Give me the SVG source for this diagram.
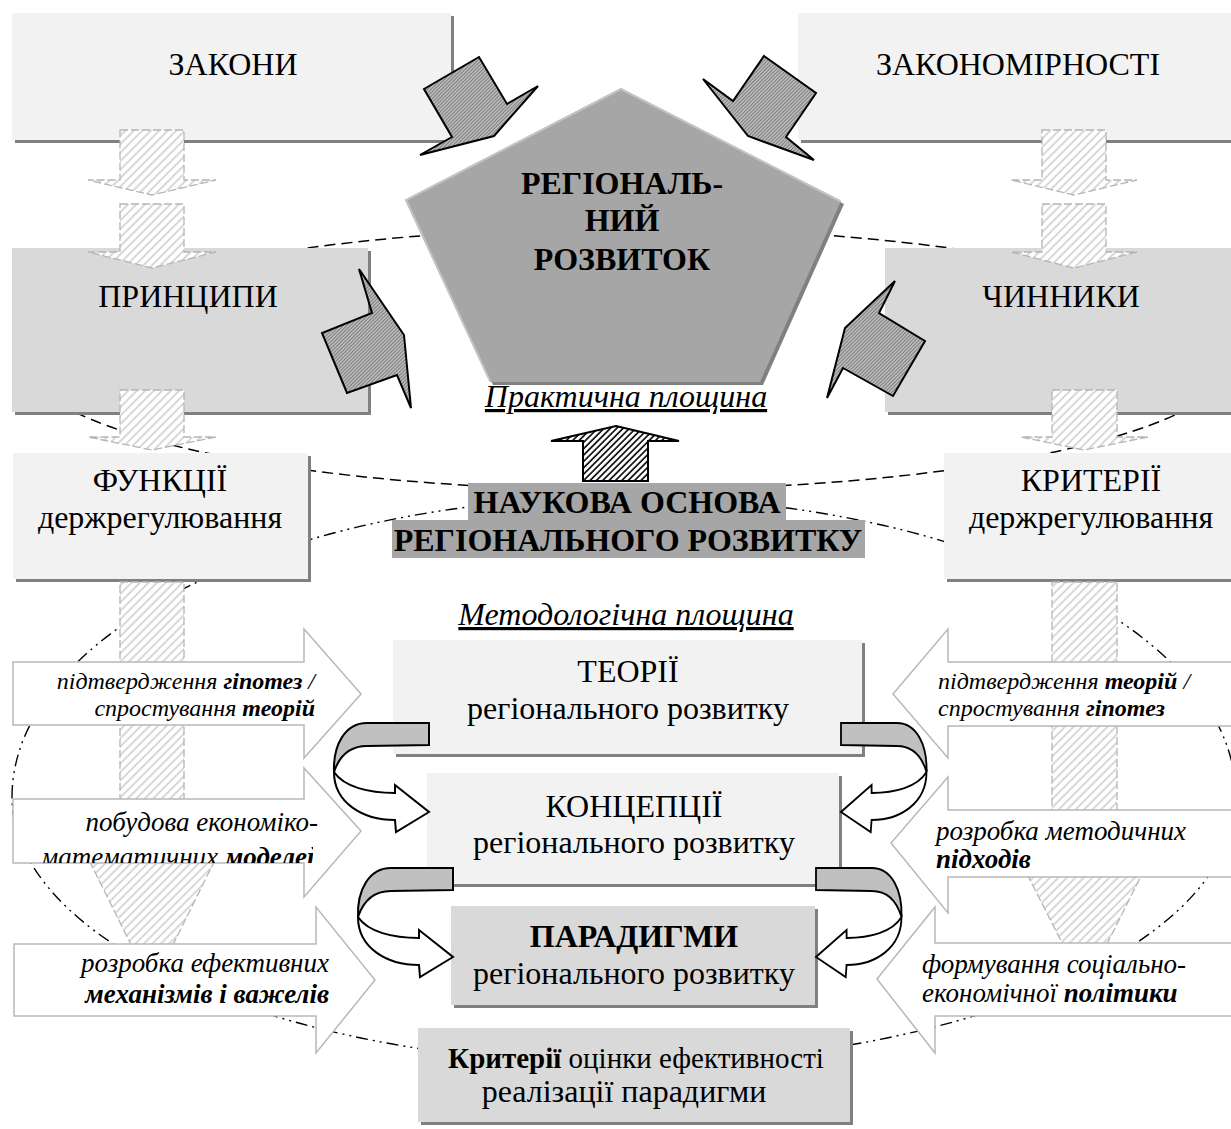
<svg xmlns="http://www.w3.org/2000/svg" width="1231" height="1129" viewBox="0 0 1231 1129" font-family="'Liberation Serif', Tinos, 'Times New Roman', serif">
<style>
text{font-family:'Liberation Serif', Tinos, 'Times New Roman', serif;fill:#000}
.t32{font-size:32px}
.t29{font-size:29px}
.b32{font-size:32px;font-weight:bold}
.it32{font-size:32px;font-style:italic;text-decoration:underline}
.it{font-size:24px;font-style:italic}
.it27{font-size:27px;font-style:italic}
.b{font-weight:bold}
.bl{fill:#f2f2f2}
.bm{fill:#d9d9d9}
.sh{fill:#808080}
.wa{fill:#fff;stroke:#b8b8b8;stroke-width:1.5}
.lh{fill:url(#hL);stroke:#b5b5b5;stroke-width:1.3;stroke-dasharray:8 3}
.ba{fill:url(#hX);stroke:#000;stroke-width:2}
.cg{fill:#c0c0c0;stroke:#000;stroke-width:2}
.cw{fill:#fff;stroke:#000;stroke-width:2}
.dash{fill:none;stroke:#000;stroke-width:1.5;stroke-dasharray:11 6}
.dd{fill:none;stroke:#000;stroke-width:1.4;stroke-dasharray:12 5 2 5 2 5}
</style>
<defs>
<pattern id="hL" width="6" height="6" patternUnits="userSpaceOnUse" patternTransform="rotate(45)">
<rect width="6" height="6" fill="#fff"/><line x1="1" y1="0" x2="1" y2="6" stroke="#c8c8c8" stroke-width="1.4"/>
</pattern>
<pattern id="hB" width="4.5" height="4.5" patternUnits="userSpaceOnUse" patternTransform="rotate(45)">
<rect width="4.5" height="4.5" fill="#fff"/><line x1="1" y1="0" x2="1" y2="4.5" stroke="#000" stroke-width="1.6"/>
</pattern>
<pattern id="hX" width="2.5" height="2.5" patternUnits="userSpaceOnUse" patternTransform="rotate(45)">
<rect width="2.5" height="2.5" fill="#bcbcbc"/><line x1="0.5" y1="0" x2="0.5" y2="2.5" stroke="#555" stroke-width="0.6"/>
</pattern>
<clipPath id="clipA2"><rect x="13" y="799" width="300" height="64"/></clipPath>
<g id="curl">
<path class="cg" d="M0,0 L-62,0 C-84,0 -96,22 -95,49 C-90,34 -80,23 -62,23 L0,22 Z"/>
<path class="cw" d="M-95,49 C-95,80 -66,97 -34,97 L-33,109 L0,89 L-34,62 L-34,70 C-60,70 -85,64 -95,49 Z"/>
</g>
</defs>

<rect width="1231" height="1129" fill="#fff"/>

<g id="planes">
<ellipse class="dash" cx="628" cy="359" rx="605" ry="131"/>
<path class="dd" d="M12,797 A612,300 0 0 1 1236,797 A612,267 0 0 1 12,797 Z"/>
</g>

<g id="nodes">
<g id="zakony"><rect class="sh" x="15" y="16" width="439" height="127"/><rect class="bl" x="12" y="13" width="439" height="127"/><text class="t32" x="233" y="75" text-anchor="middle">ЗАКОНИ</text></g>
<g id="zakonomirnosti"><rect class="sh" x="801" y="16" width="440" height="127"/><rect class="bl" x="798" y="13" width="440" height="127"/><text class="t32" x="1018" y="75" text-anchor="middle">ЗАКОНОМІРНОСТІ</text></g>
<g id="pryntsypy"><rect class="sh" x="15" y="251" width="356" height="164"/><rect class="bm" x="12" y="248" width="356" height="164"/><text class="t32" x="188" y="307" text-anchor="middle">ПРИНЦИПИ</text></g>
<g id="chynnyky"><rect class="sh" x="888" y="251" width="356" height="164"/><rect class="bm" x="885" y="248" width="356" height="164"/><text class="t32" x="1061" y="307" text-anchor="middle">ЧИННИКИ</text></g>
<g id="funktsii"><rect class="sh" x="16" y="456" width="295" height="126"/><rect class="bl" x="13" y="453" width="295" height="126"/><text class="t32" x="160" y="491" text-anchor="middle">ФУНКЦІЇ</text><text class="t32" x="160" y="528" text-anchor="middle">держрегулювання</text></g>
<g id="kryterii"><rect class="sh" x="947" y="456" width="296" height="126"/><rect class="bl" x="944" y="453" width="296" height="126"/><text class="t32" x="1091" y="491" text-anchor="middle">КРИТЕРІЇ</text><text class="t32" x="1091" y="528" text-anchor="middle">держрегулювання</text></g>
<g id="rozvytok">
<polygon fill="#808080" points="624,91 844,204 763,385 493,385 408,203"/>
<polygon fill="#a6a6a6" points="621,88 841,201 760,382 490,382 405,200"/>
<polyline fill="none" stroke="#c4c4c4" stroke-width="2" points="490,381 406,200 621,89 840,201"/>
<text class="b32" x="622" y="194" text-anchor="middle">РЕГІОНАЛЬ-</text>
<text class="b32" x="622" y="231" text-anchor="middle">НИЙ</text>
<text class="b32" x="622" y="270" text-anchor="middle">РОЗВИТОК</text>
</g>
<g id="praktychna"><text class="it32" x="626" y="407" text-anchor="middle">Практична площина</text></g>
<g id="naukova">
<rect fill="#a6a6a6" x="468" y="483" width="318" height="37"/>
<rect fill="#a6a6a6" x="392" y="520" width="473" height="38"/>
<text class="b32" x="627" y="513" text-anchor="middle">НАУКОВА ОСНОВА</text>
<text class="b32" x="628" y="551" text-anchor="middle">РЕГІОНАЛЬНОГО РОЗВИТКУ</text>
</g>
<g id="metodologichna"><text class="it32" x="626" y="625" text-anchor="middle">Методологічна площина</text></g>
<g id="teorii"><rect class="sh" x="396" y="643" width="469" height="114"/><rect class="bl" x="393" y="640" width="469" height="114"/><text class="t32" x="628" y="682" text-anchor="middle">ТЕОРІЇ</text><text class="t32" x="628" y="719" text-anchor="middle">регіонального розвитку</text></g>
<g id="kontseptsii"><rect class="sh" x="430" y="776" width="412" height="111"/><rect class="bl" x="427" y="773" width="412" height="111"/><text class="t32" x="634" y="817" text-anchor="middle">КОНЦЕПЦІЇ</text><text class="t32" x="634" y="853" text-anchor="middle">регіонального розвитку</text></g>
<g id="paradygmy"><rect class="sh" x="454" y="909" width="364" height="99"/><rect class="bm" x="451" y="906" width="364" height="99"/><text class="b32" x="634" y="947" text-anchor="middle">ПАРАДИГМИ</text><text class="t32" x="634" y="984" text-anchor="middle">регіонального розвитку</text></g>
<g id="kryterii-otsinky"><rect class="sh" x="421" y="1031" width="432" height="94"/><rect class="bm" x="418" y="1028" width="432" height="94"/><text class="t29" x="636" y="1068" text-anchor="middle"><tspan class="b">Критерії</tspan> оцінки ефективності</text><text class="t32" x="624" y="1102" text-anchor="middle">реалізації парадигми</text></g>
</g>

<g id="connectors">
<polygon class="lh" points="120,130 184,130 184,180 216,180 152,195 88,180 120,180"/>
<polygon class="lh" points="120,204 184,204 184,252 216,252 152,268 88,252 120,252"/>
<polygon class="lh" points="120,390 184,390 184,437 216,437 152,450 88,437 120,437"/>
<polygon class="lh" points="120,582 184,582 184,858 216,858 152,987 88,858 120,858"/>
<polygon class="lh" points="1042,130 1106,130 1106,180 1137,180 1074,195 1011,180 1042,180"/>
<polygon class="lh" points="1042,204 1106,204 1106,252 1137,252 1074,268 1011,252 1042,252"/>
<polygon class="lh" points="1052,390 1117,390 1117,437 1148,437 1084,450 1021,437 1052,437"/>
<polygon class="lh" points="1052,582 1117,582 1117,860 1149,860 1085,988 1020,860 1052,860"/>
<polygon class="ba" points="424,89 479,57 507,104 538,86 494,136 420,155 452,137"/>
<polygon class="ba" points="764,56 816,93 786,137 814,160 748,136 703,79 733,101"/>
<polygon class="ba" points="359,269 404,335 411,408 397,375 347,393 322,333 372,313"/>
<polygon class="ba" points="895,281 845,328 827,398 843,368 893,396 925,341 879,313"/>
<polygon fill="url(#hB)" stroke="#000" stroke-width="2" points="616,426 679,441 648,441 648,481 583,481 583,441 551,441"/>
<use href="#curl" transform="translate(429,723)"/>
<use href="#curl" transform="translate(453,868)"/>
<use href="#curl" transform="translate(841,723) scale(-0.9,1)"/>
<use href="#curl" transform="translate(816,868) scale(-0.9,1)"/>
</g>

<g id="left-actions">
<g id="la1"><polygon class="wa" points="13,662 304,662 304,629 361,694 304,758 304,725 13,725"/>
<text class="it" x="315" y="689" text-anchor="end">підтвердження <tspan class="b">гіпотез</tspan> /</text>
<text class="it" x="315" y="716" text-anchor="end">спростування <tspan class="b">теорій</tspan></text></g>
<g id="la2"><polygon class="wa" points="13,799 304,799 304,768 361,831 304,897 304,863 13,863"/>
<text class="it27" x="318" y="831" text-anchor="end">побудова економіко-</text>
<text class="it27" x="322" y="866" text-anchor="end" clip-path="url(#clipA2)">математичних <tspan class="b">моделей</tspan></text></g>
<g id="la3"><polygon class="wa" points="14,944 316,944 316,907 375,980 316,1053 316,1016 14,1016"/>
<text class="it27" x="329" y="972" text-anchor="end">розробка ефективних</text>
<text class="it27 b" x="329" y="1003" text-anchor="end">механізмів і важелів</text></g>
</g>

<g id="right-actions">
<g id="ra1"><polygon class="wa" points="1240,662 948,662 948,629 893,694 948,758 948,726 1240,726"/>
<text class="it" x="938" y="689">підтвердження <tspan class="b">теорій</tspan> /</text>
<text class="it" x="938" y="716">спростування <tspan class="b">гіпотез</tspan></text></g>
<g id="ra2"><polygon class="wa" points="1240,810 948,810 948,777 891,843 948,913 948,877 1240,877"/>
<text class="it27" x="936" y="840">розробка методичних</text>
<text class="it27 b" x="936" y="868">підходів</text></g>
<g id="ra3"><polygon class="wa" points="1240,943 935,943 935,907 877,979 935,1053 935,1016 1240,1016"/>
<text class="it27" x="922" y="973">формування соціально-</text>
<text class="it27" x="922" y="1002">економічної <tspan class="b">політики</tspan></text></g>
</g>
</svg>
